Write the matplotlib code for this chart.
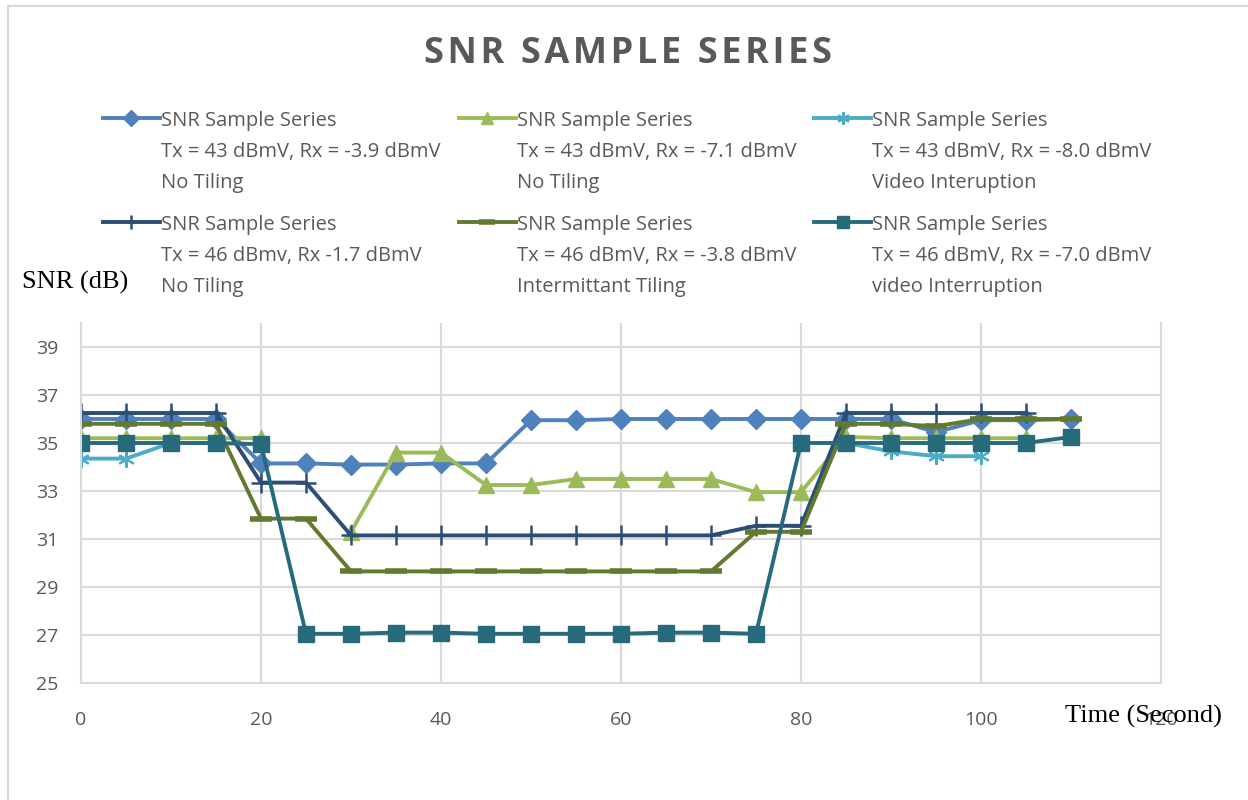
import numpy as np
import matplotlib.pyplot as plt
from matplotlib.patches import Rectangle

nan = np.nan

# time axis (seconds)
time_s = list(range(0, 115, 5))

# SNR values (dB), nan = no sample
snr_tx43_rx39 = [36.0, 36.0, 36.0, 36.0, 34.15, 34.15, 34.1, 34.1, 34.15, 34.15, 35.95, 35.95,
                 36.0, 36.0, 36.0, 36.0, 36.0, 36.0, 36.0, 35.45, 35.95, 35.95, 36.0]
snr_tx43_rx71 = [35.2, 35.2, 35.2, 35.2, 35.2, nan, 31.3, 34.6, 34.6, 33.25, 33.25, 33.5,
                 33.5, 33.5, 33.5, 32.95, 32.95, 35.25, 35.2, 35.2, 35.2, 35.2, nan]
snr_tx43_rx80 = [34.35, 34.35, 35.0, 35.0, nan, nan, nan, nan, nan, nan, nan, nan,
                 nan, nan, nan, nan, nan, 35.0, 34.65, 34.45, 34.45, nan, nan]
snr_tx46_rx17 = [36.25, 36.25, 36.25, 36.25, 33.35, 33.35, 31.15, 31.15, 31.15, 31.15, 31.15, 31.15,
                 31.15, 31.15, 31.15, 31.55, 31.55, 36.25, 36.25, 36.25, 36.25, 36.25, nan]
snr_tx46_rx38 = [35.8, 35.8, 35.8, 35.8, 31.85, 31.85, 29.65, 29.65, 29.65, 29.65, 29.65, 29.65,
                 29.65, 29.65, 29.65, 31.3, 31.3, 35.8, 35.8, 35.7, 36.0, 36.0, 36.0]
snr_tx46_rx70 = [35.0, 35.0, 35.0, 35.0, 34.95, 27.05, 27.05, 27.1, 27.1, 27.05, 27.05, 27.05,
                 27.05, 27.1, 27.1, 27.05, 35.0, 35.0, 35.0, 35.0, 35.0, 35.0, 35.25]

series_labels = [
    "SNR Sample Series\nTx = 43 dBmV, Rx = -3.9 dBmV\nNo Tiling",
    "SNR Sample Series\nTx = 43 dBmV, Rx = -7.1 dBmV\nNo Tiling",
    "SNR Sample Series\nTx = 43 dBmV, Rx = -8.0 dBmV\nVideo Interuption",
    "SNR Sample Series\nTx = 46 dBmv, Rx -1.7 dBmV\nNo Tiling",
    "SNR Sample Series\nTx = 46 dBmV, Rx = -3.8 dBmV\nIntermittant Tiling",
    "SNR Sample Series\nTx = 46 dBmV, Rx = -7.0 dBmV\nvideo Interruption",
]
x_ticks = [0, 20, 40, 60, 80, 100, 120]
y_ticks = [25, 27, 29, 31, 33, 35, 37, 39]

series = [snr_tx43_rx39, snr_tx43_rx71, snr_tx43_rx80, snr_tx46_rx17, snr_tx46_rx38, snr_tx46_rx70]
colors = ['#4F81BD', '#9BBB59', '#4BACC6', '#2C4D75', '#617A2E', '#276A7C']
markers = ['D', '^', (6, 2, 0), '+', '_', 's']
msizes = [10.5, 12, 12, 14, 16, 12]
medge = [1, 1, 1.5, 1.8, 4, 1]

plt.rcParams['font.family'] = ['Open Sans', 'DejaVu Sans']
text_grey = '#595959'
grid_grey = '#D9D9D9'

fig = plt.figure(figsize=(12.48, 8), dpi=100)
ax = fig.add_axes([81 / 1248, 117 / 800, 1080 / 1248, 360 / 800])

lines = []
for vals, c, m, ms, mew, lab in zip(series, colors, markers, msizes, medge, series_labels):
    ln, = ax.plot(time_s, vals, color=c, lw=2.8, marker=m, markersize=ms,
                  markeredgewidth=mew, markeredgecolor=c, markerfacecolor=c, label=lab)
    lines.append(ln)

ax.set_xlim(0, 120)
ax.set_ylim(25, 40)
ax.set_xticks(x_ticks)
ax.set_yticks(y_ticks)
ax.grid(True, color=grid_grey, lw=1.5)
ax.set_axisbelow(True)
ax.tick_params(length=0, labelsize=14, labelcolor=text_grey)
ax.tick_params(axis='y', pad=16)
ax.tick_params(axis='x', pad=20)
for s in ['left', 'bottom', 'right']:
    ax.spines[s].set_color(grid_grey)
    ax.spines[s].set_linewidth(1.5)
ax.spines['top'].set_visible(False)

# chart title (letter-spaced) and axis captions
title = '\u200a'.join('SNR SAMPLE SERIES')
fig.text(628 / 1248, 1 - 54 / 800, title, ha='center', va='center',
         fontsize=26, fontweight='bold', color=text_grey)
fig.text(22 / 1248, 1 - 282 / 800, 'SNR (dB)', family='Liberation Serif', fontsize=19,
         ha='left', va='center', color='black')
fig.text(1065 / 1248, 1 - 716 / 800, 'Time (Second)', family='Liberation Serif', fontsize=19,
         ha='left', va='center', color='black')

# legend: 3 columns, 2 rows (matplotlib fills columns first)
order = [0, 3, 1, 4, 2, 5]
leg = fig.legend([lines[i] for i in order], [series_labels[i] for i in order],
                 loc='upper left', bbox_to_anchor=(103 / 1248, 1 - 111 / 800), ncol=3,
                 frameon=False, fontsize=14.5, handlelength=2.83, handletextpad=0.05,
                 columnspacing=0.9, labelspacing=1.12, borderpad=0, borderaxespad=0)
for t in leg.get_texts():
    t.set_color(text_grey)
    t.set_linespacing(1.72)
for h in leg.legend_handles:
    h.set_ydata(np.asarray(h.get_ydata()) + 25)
    h.set_markersize(h.get_markersize() * 0.75)

# outer chart border
fig.patches.append(Rectangle((8 / 1248, -0.1), 1.2, 1.1 - 6 / 800, transform=fig.transFigure,
                             fill=False, ec=grid_grey, lw=1.5))

fig.savefig('out.png', dpi=100)
